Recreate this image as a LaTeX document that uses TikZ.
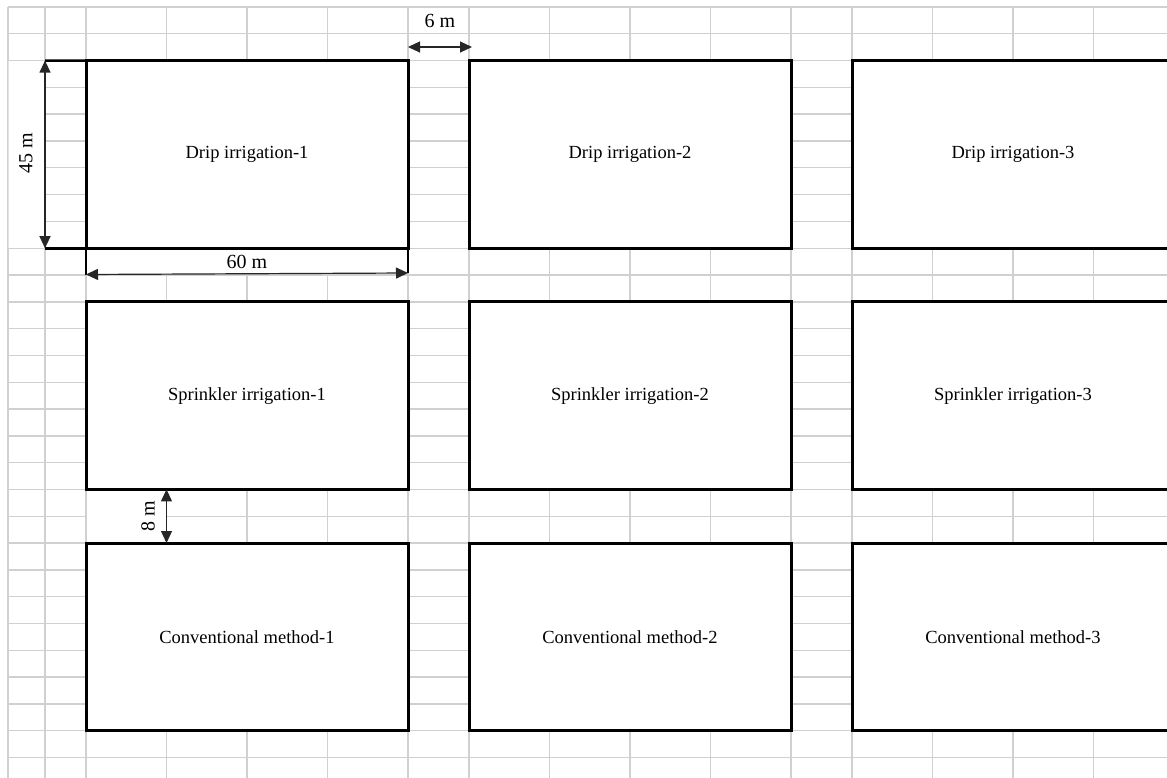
\documentclass[tikz,border=0pt]{standalone}
\usepackage{fontspec}
\setmainfont{Liberation Serif}
\usetikzlibrary{arrows.meta}
\definecolor{gridgray}{HTML}{D0D0D0}
\tikzset{
  gridline/.style={draw=gridgray, line width=1.4pt},
  plot/.style={draw=black, fill=white, line width=3pt, outer sep=0pt, inner sep=0pt,
    minimum width=322pt, minimum height=187.6pt, font=\fontsize{18.5}{20}\selectfont},
  ext/.style={draw=black, line width=2.6pt},
  dim/.style={draw=black!85, line width=1.2pt, {Triangle[length=12pt,width=11pt]}-{Triangle[length=12pt,width=11pt]}},
  dimlabel/.style={inner sep=0pt, font=\fontsize{20}{22}\selectfont},
  blank/.style={fill=white, draw=none}
}
\begin{document}
\begin{tikzpicture}[x=1pt, y=-1pt]
\useasboundingbox (0,0) rectangle (1167,778);
\clip (0,0) rectangle (1167,778);
\fill[white] (0,0) rectangle (1167,778);
% spreadsheet grid
\foreach \k in {0,...,28}{
  \pgfmathsetmacro{\yy}{7+26.8*\k}
  \draw[gridline] (8,\yy) -- (1167,\yy);
}
\foreach \xx in {8,45,86,166.5,247,327.5,408,469,549.5,630,710.5,791,852,932.5,1013,1093.5}{
  \draw[gridline] (\xx,7) -- (\xx,778);
}
% merged label cells
\fill[blank] (8.8,61.4) rectangle (44.3,247.4);
\draw[draw=gridgray!60, line width=1pt] (8,60.6) -- (8,248.2);
\fill[blank] (86.8,249) rectangle (407.2,274.2);
\fill[blank] (86.8,490.2) rectangle (165.8,542.2);
% plots
\node[plot] (d1) at (247,154.4) {Drip irrigation-1};
\node[plot] (d2) at (630,154.4) {Drip irrigation-2};
\node[plot] (d3) at (1013,154.4) {Drip irrigation-3};
\node[plot] (s1) at (247,395.6) {Sprinkler irrigation-1};
\node[plot] (s2) at (630,395.6) {Sprinkler irrigation-2};
\node[plot] (s3) at (1013,395.6) {Sprinkler irrigation-3};
\node[plot] (c1) at (247,636.8) {Conventional method-1};
\node[plot] (c2) at (630,636.8) {Conventional method-2};
\node[plot] (c3) at (1013,636.8) {Conventional method-3};
% 45 m dimension
\coordinate (h45t) at (45,60.6);
\coordinate (h45b) at (45,248.2);
\draw[ext] (d1.north west) -- (h45t);
\draw[ext] (d1.south west) -- (h45b);
\draw[dim] (h45t) -- (h45b);
\node[dimlabel, rotate=90] (t45) at (26,153) {45 m};
% 60 m dimension
\coordinate (w60l) at (86,274.5);
\coordinate (w60r) at (408,273);
\draw[ext] (d1.south west) -- (w60l);
\draw[ext] (d1.south east) -- (w60r);
\draw[dim] (w60l) -- (w60r);
\node[dimlabel] (t60) at (247,262) {60 m};
% 6 m dimension
\coordinate (g6l) at (408,47);
\coordinate (g6r) at (472,47);
\draw[dim] (g6l) -- (g6r);
\node[dimlabel] (t6) at (440,21) {6 m};
% 8 m dimension
\coordinate (g8t) at (166.5,489.4);
\coordinate (g8b) at (166.5,543);
\draw[dim] (g8t) -- (g8b);
\node[dimlabel, rotate=90] (t8) at (148,516) {8 m};
\end{tikzpicture}
\end{document}
